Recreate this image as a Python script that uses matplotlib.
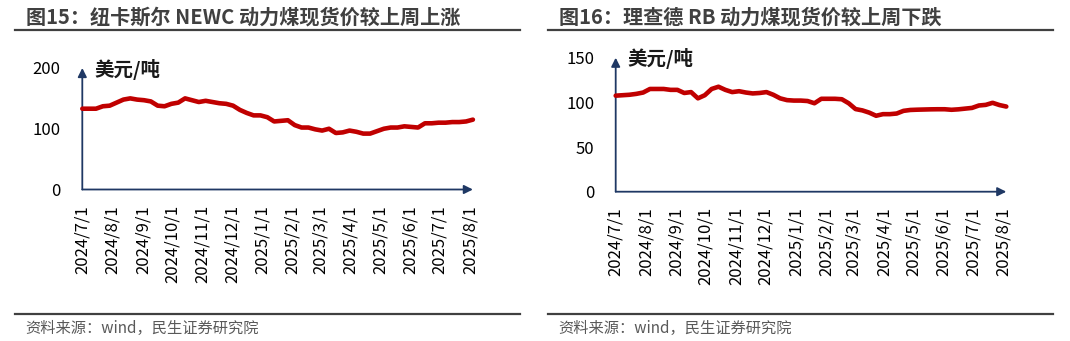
import matplotlib
matplotlib.use("Agg")
import matplotlib.pyplot as plt
import pandas as pd
from matplotlib.lines import Line2D

plt.rcParams['font.family'] = ['Noto Sans CJK SC', 'DejaVu Sans']

# 周度数据，2024/7/1 起
dates = pd.date_range("2024-07-01", periods=58, freq="7D")

newc = [133, 133, 133, 137, 138, 143, 148, 150, 148, 147,
        145, 138, 137, 141, 143, 150, 147, 144, 146, 144,
        142, 141, 138, 131, 126, 122, 122, 119, 112, 113,
        114, 106, 102, 102, 99, 97, 100, 93, 94, 97,
        95, 92, 92, 96, 100, 102, 102, 104, 103, 102,
        109, 109, 110, 110, 111, 111, 112, 115]

rb = [107.5, 108, 108.5, 109.5, 111, 115, 115, 115, 114, 114,
      110.5, 111.5, 104.5, 108, 115, 117.5, 114, 111.5, 112.5, 111,
      110, 110.5, 111.5, 108.5, 104.5, 102.5, 102, 102, 101.5, 99,
      104, 104, 104, 103.5, 99, 92.5, 91, 88.5, 85, 86.8,
      86.8, 87.5, 90.5, 91.5, 91.8, 92, 92.2, 92.3, 92.3, 91.7,
      92.2, 93, 93.8, 96.5, 97.2, 99.5, 97, 95.3]

month_ticks = pd.date_range("2024-07-01", "2025-08-01", freq="MS")
month_labels = [f"{d.year}/{d.month}/1" for d in month_ticks]

titles = ["图15：纽卡斯尔 NEWC 动力煤现货价较上周上涨",
          "图16：理查德 RB 动力煤现货价较上周下跌"]
unit = "美元/吨"
source = "资料来源：wind，民生证券研究院"

W, H = 1070, 341
navy = "#1F3864"
red = "#C00000"
gray = "#404040"


def fx(px):
    return px / W


def fy(py):
    return 1 - py / H


fig = plt.figure(figsize=(W / 100, H / 100), dpi=100)


def draw_panel(x0, y_bot, y_top, values, ymax, yticks, unit_xy):
    ax = fig.add_axes([fx(x0), fy(y_bot), 390.6 / W, (y_bot - y_top) / H])
    ax.plot(dates, values, color=red, lw=3.3, solid_capstyle="round",
            clip_on=False, zorder=3)
    ax.set_xlim(dates[0], dates[-1])
    ax.set_ylim(0, ymax)
    for s in ax.spines.values():
        s.set_visible(False)
    ax.set_yticks(yticks)
    ax.set_xticks(month_ticks)
    ax.set_xticklabels(month_labels, rotation=90, va="top", ha="center")
    ax.tick_params(axis="y", length=0, pad=15.5, labelsize=12)
    ax.tick_params(axis="x", length=0, pad=11, labelsize=12)
    # 坐标轴带箭头
    arrow = dict(arrowstyle="-|>", color=navy, lw=1.3, mutation_scale=13,
                 shrinkA=0, shrinkB=0)
    ax.annotate("", xy=(1, 0), xytext=(0, 0), xycoords="axes fraction",
                arrowprops=arrow, zorder=2)
    ax.annotate("", xy=(0, 1), xytext=(0, 0), xycoords="axes fraction",
                arrowprops=arrow, zorder=2)
    fig.text(fx(unit_xy[0]), fy(unit_xy[1]), unit, fontsize=14,
             fontweight="bold", va="center", ha="left", color="#1a1a1a")
    return ax


draw_panel(82.3, 189.5, 68, newc, 200, [0, 100, 200], (94, 70))
draw_panel(615.7, 191.7, 57.7, rb, 150, [0, 50, 100, 150], (627.7, 58.3))

# 标题、分隔线、来源
panels = [(26, 14.5, 520), (559, 548, 1053)]
for (tx, l0, l1), title in zip(panels, titles):
    fig.text(fx(tx), fy(17), title, fontsize=14.5, fontweight="bold",
             color=gray, va="center", ha="left")
    for ly in (30, 314):
        fig.add_artist(Line2D([fx(l0), fx(l1)], [fy(ly), fy(ly)],
                              color=gray, lw=1.6))
    fig.text(fx(tx - 1), fy(328), source, fontsize=11, color="#595959",
             va="center", ha="left")

fig.savefig("out.png", dpi=100)
